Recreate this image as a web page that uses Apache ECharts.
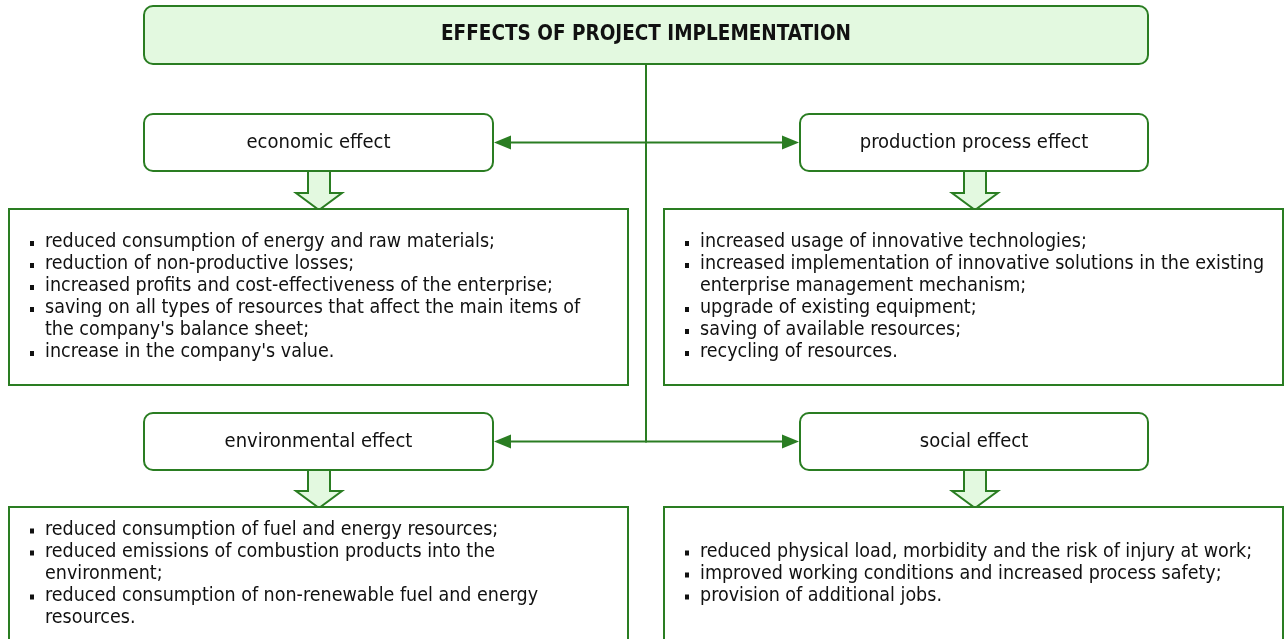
<!DOCTYPE html>
<html>
<head>
<meta charset="utf-8">
<script src="https://cdn.jsdelivr.net/npm/echarts@6/dist/echarts.min.js"></script>
<style>
html, body { margin: 0; padding: 0; background: #fff; }
#main { width: 1285px; height: 639px; }
</style>
</head>
<body>
<div id="main"></div>
<script>
var title = 'EFFECTS OF PROJECT IMPLEMENTATION';
var effectNames = ['economic effect', 'production process effect', 'environmental effect', 'social effect'];

// each item is a list of its wrapped lines
var economicItems = [
    ['reduced consumption of energy and raw materials;'],
    ['reduction of non-productive losses;'],
    ['increased profits and cost-effectiveness of the enterprise;'],
    ['saving on all types of resources that affect the main items of', "the company's balance sheet;"],
    ["increase in the company's value."]
];
var productionItems = [
    ['increased usage of innovative technologies;'],
    ['increased implementation of innovative solutions in the existing', 'enterprise management mechanism;'],
    ['upgrade of existing equipment;'],
    ['saving of available resources;'],
    ['recycling of resources.']
];
var environmentalItems = [
    ['reduced consumption of fuel and energy resources;'],
    ['reduced emissions of combustion products into the', 'environment;'],
    ['reduced consumption of non-renewable fuel and energy', 'resources.']
];
var socialItems = [
    ['reduced physical load, morbidity and the risk of injury at work;'],
    ['improved working conditions and increased process safety;'],
    ['provision of additional jobs.']
];

var green = '#2a7d22';
var lightGreen = '#e3f9e0';
var textColor = '#111';
var font = '"DejaVu Sans Condensed", "DejaVu Sans", sans-serif';

var dom = document.getElementById('main');
var myChart = echarts.init(dom);

var els = [];

// layout
var titleBox = { x: 144, y: 6, w: 1004, h: 58 };
var spineX = 646;
var cols = [
    { label: 144, labelW: 349, list: 9, listW: 619, arrow: 319 },
    { label: 800, labelW: 348, list: 664, listW: 619, arrow: 975 }
];
var rows = [
    { labelY: 114, listY: 209, listH: 176 },
    { labelY: 413, listY: 507, listH: 133 }
];
var labelH = 57;
var lineH = 22;

// title
els.push({
    type: 'rect',
    shape: { x: titleBox.x, y: titleBox.y, width: titleBox.w, height: titleBox.h, r: 9 },
    style: { fill: lightGreen, stroke: green, lineWidth: 2 }
});
els.push({
    type: 'text',
    x: titleBox.x + titleBox.w / 2, y: titleBox.y + titleBox.h / 2,
    style: {
        text: title, fill: textColor, font: 'bold 20.5px ' + font,
        align: 'center', verticalAlign: 'middle'
    }
});

// spine
els.push({
    type: 'line',
    shape: { x1: spineX, y1: titleBox.y + titleBox.h, x2: spineX, y2: rows[1].labelY + labelH / 2 + 1 },
    style: { stroke: green, lineWidth: 2 }
});

function arrowHead(tipX, y, dir) {
    // dir -1 => points left, 1 => points right
    return {
        type: 'polygon',
        shape: { points: [[tipX, y], [tipX - dir * 17, y - 7], [tipX - dir * 17, y + 7]] },
        style: { fill: green }
    };
}

function blockArrow(cx, y1, y2) {
    var sw = 11, hw = 23, hh = 17;
    return {
        type: 'polygon',
        shape: {
            points: [
                [cx - sw, y1], [cx + sw, y1], [cx + sw, y2 - hh], [cx + hw, y2 - hh],
                [cx, y2], [cx - hw, y2 - hh], [cx - sw, y2 - hh]
            ]
        },
        style: { fill: lightGreen, stroke: green, lineWidth: 2, lineJoin: 'miter' }
    };
}

function listBox(x, y, w, h, items) {
    els.push({
        type: 'rect',
        shape: { x: x, y: y, width: w, height: h },
        style: { fill: '#fff', stroke: green, lineWidth: 2 }
    });
    var n = 0;
    items.forEach(function (it) { n += it.length; });
    var y0 = y + h / 2 - (n - 1) * lineH / 2;
    var k = 0;
    items.forEach(function (it) {
        var ly = y0 + k * lineH;
        els.push({
            type: 'rect',
            shape: { x: x + 21, y: ly - 1, width: 4, height: 5 },
            style: { fill: textColor }
        });
        it.forEach(function (line) {
            els.push({
                type: 'text',
                x: x + 36, y: y0 + k * lineH,
                style: {
                    text: line, fill: textColor, font: '19.5px ' + font,
                    align: 'left', verticalAlign: 'middle'
                }
            });
            k++;
        });
    });
}

var itemsGrid = [[economicItems, productionItems], [environmentalItems, socialItems]];

rows.forEach(function (row, r) {
    var midY = row.labelY + labelH / 2;
    // connectors from spine
    els.push({
        type: 'line',
        shape: { x1: cols[0].label + cols[0].labelW + 12, y1: midY, x2: cols[1].label - 12, y2: midY },
        style: { stroke: green, lineWidth: 2 }
    });
    els.push(arrowHead(cols[0].label + cols[0].labelW + 1, midY, -1));
    els.push(arrowHead(cols[1].label - 1, midY, 1));

    cols.forEach(function (col, c) {
        els.push(blockArrow(col.arrow, row.labelY + labelH, row.listY + 1));
        els.push({
            type: 'rect',
            shape: { x: col.label, y: row.labelY, width: col.labelW, height: labelH, r: 9 },
            style: { fill: '#fff', stroke: green, lineWidth: 2 }
        });
        els.push({
            type: 'text',
            x: col.label + col.labelW / 2, y: midY,
            style: {
                text: effectNames[r * 2 + c], fill: textColor, font: '20px ' + font,
                align: 'center', verticalAlign: 'middle'
            }
        });
        listBox(col.list, row.listY, col.listW, row.listH, itemsGrid[r][c]);
    });
});

var option = {
    backgroundColor: '#fff',
    graphic: { elements: els }
};

if (option && typeof option === 'object') {
    myChart.setOption(option, true);
}
</script>
</body>
</html>
